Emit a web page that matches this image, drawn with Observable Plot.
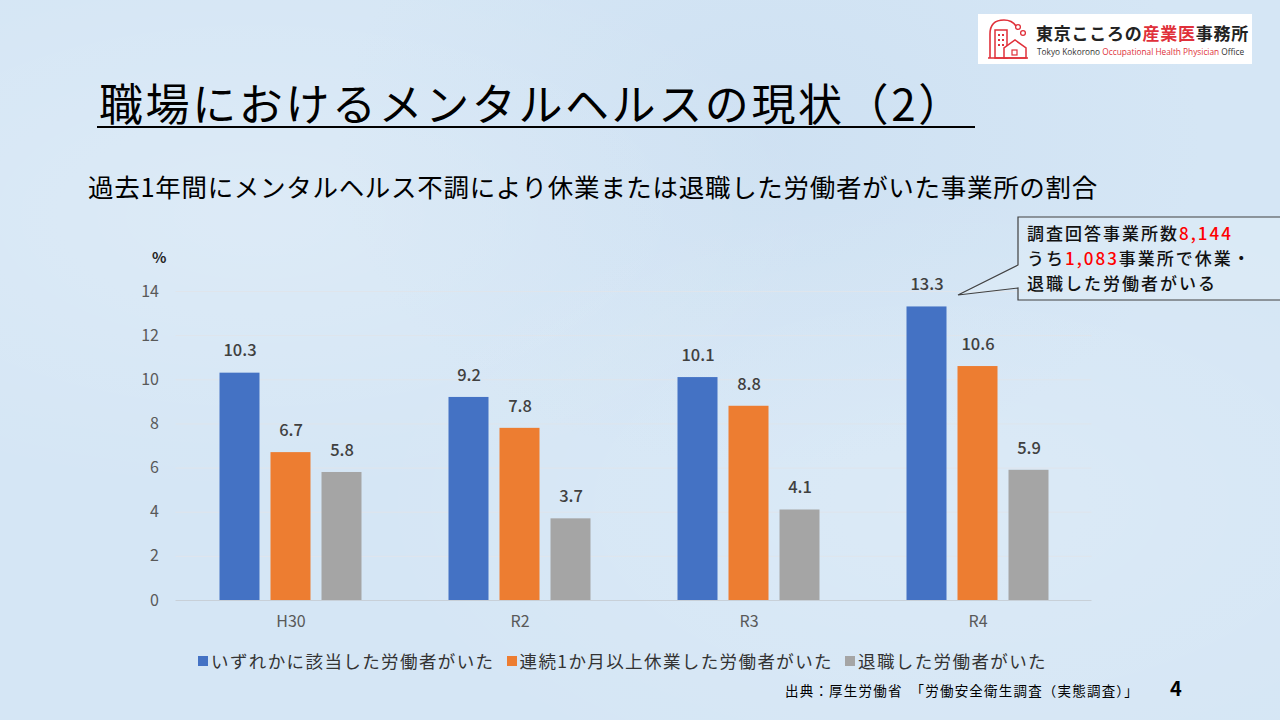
<!DOCTYPE html>
<html>
<head>
<meta charset="utf-8">
<script src="https://cdn.jsdelivr.net/npm/d3@7"></script>
<script src="https://cdn.jsdelivr.net/npm/@observablehq/plot@0.6"></script>
<style>
  html, body { margin: 0; padding: 0; }
  body {
    width: 1280px; height: 720px; position: relative; overflow: hidden;
    background: #d5e6f5;
    background-image:
      radial-gradient(ellipse at 20% 30%, rgba(255,255,255,0.18), rgba(255,255,255,0) 40%),
      radial-gradient(ellipse at 75% 70%, rgba(255,255,255,0.15), rgba(255,255,255,0) 45%),
      radial-gradient(ellipse at 60% 20%, rgba(180,205,232,0.2), rgba(180,205,232,0) 40%);
    font-family: "Noto Sans CJK JP", "Noto Sans", sans-serif;
    color: #000;
  }
  .abs { position: absolute; white-space: nowrap; }
  #title { left: 99px; top: 74px; font-size: 44px; line-height: 56px; letter-spacing: 2.6px; }
  #underline { left: 97px; top: 126px; width: 878px; height: 2px; background: #000; }
  #subtitle { left: 88px; top: 169px; font-size: 25.5px; line-height: 34px; letter-spacing: 0.7px; }
  #pct { left: 152px; top: 246px; font-size: 15px; font-weight: bold; color: #262626; }
  #chart { left: 0; top: 240px; }
  #legend { left: 198px; top: 648px; font-size: 17.5px; line-height: 26px; color: #333; display: flex; align-items: center; letter-spacing: 1.4px; }
  #legend .item { display: flex; align-items: center; margin-right: 12px; }
  #legend .sw { width: 10px; height: 10px; margin-right: 3px; }
  #source { left: 785px; top: 680px; font-size: 13.5px; line-height: 20px; color: #000; letter-spacing: 1.2px; }
  #page { left: 1170px; top: 674px; font-size: 20px; font-weight: bold; line-height: 28px; }
  .cl { left: 1027px; font-size: 17px; line-height: 25px; height: 25px; font-weight: 500; color: #111; letter-spacing: 2px; }
  .cl .red { color: #ff0000; }
  #logo { left: 978px; top: 14px; width: 274px; height: 50px; background: #fff; }
  #logo .jp { position: absolute; left: 58px; top: 7px; font-size: 17px; font-weight: bold; letter-spacing: 0.75px; line-height: 24px; color: #222; }
  #logo .en { position: absolute; left: 59px; top: 33px; font-size: 8.3px; line-height: 10px; color: #333; font-family: "Open Sans", sans-serif; }
  .r { color: #e0303a; }
</style>
</head>
<body>
<script>
// ---- data ----
const groups = ["H30", "R2", "R3", "R4"];
const seriesNames = ["いずれかに該当した労働者がいた", "連続1か月以上休業した労働者がいた", "退職した労働者がいた"];
const anyValues = [10.3, 9.2, 10.1, 13.3];
const leaveValues = [6.7, 7.8, 8.8, 10.6];
const quitValues = [5.8, 3.7, 4.1, 5.9];
const seriesColors = ["#4472c4", "#ed7d31", "#a5a5a5"];
const yTicks = [0, 2, 4, 6, 8, 10, 12, 14];
const titleText = "職場におけるメンタルヘルスの現状（2）";
const subtitleText = "過去1年間にメンタルヘルス不調により休業または退職した労働者がいた事業所の割合";
const sourceText = "出典：厚生労働省　「労働安全衛生調査（実態調査）」";
const pageNumber = "4";
const calloutTotal = "8,144";
const calloutCount = "1,083";

const seriesValues = [anyValues, leaveValues, quitValues];
const rows = [];
seriesNames.forEach((s, si) => groups.forEach((g, gi) => rows.push({group: g, series: s, si, value: seriesValues[si][gi]})));

function add(html) { document.body.insertAdjacentHTML("beforeend", html); }

add(`<div id="logo" class="abs">
  <svg width="56" height="50" viewBox="0 0 56 50" style="position:absolute;left:0;top:0">
    <path d="M12 44 V20 Q12 6 26 6 Q34 6 38 12" fill="none" stroke="#e0303a" stroke-width="1.6"/>
    <circle cx="40" cy="13" r="2.4" fill="none" stroke="#e0303a" stroke-width="1.3"/>
    <circle cx="45" cy="19" r="2.4" fill="none" stroke="#e0303a" stroke-width="1.3"/>
    <rect x="17" y="16" width="12" height="28" fill="none" stroke="#e0303a" stroke-width="1.5"/>
    <g fill="#e0303a"><rect x="20" y="20" width="2" height="2"/><rect x="24" y="20" width="2" height="2"/><rect x="20" y="25" width="2" height="2"/><rect x="24" y="25" width="2" height="2"/><rect x="20" y="30" width="2" height="2"/><rect x="24" y="30" width="2" height="2"/></g>
    <path d="M26 44 V34 L37 26 L48 34 V44 Z" fill="#fff" stroke="#e0303a" stroke-width="1.5"/>
    <rect x="34" y="36" width="5" height="5" fill="none" stroke="#e0303a" stroke-width="1.2"/>
    <path d="M10 44 H50" stroke="#e0303a" stroke-width="1.5"/>
  </svg>
  <div class="jp">東京こころの<span class="r">産業医</span>事務所</div>
  <div class="en">Tokyo Kokorono <span class="r">Occupational Health Physician</span> Office</div>
</div>`);
add(`<div id="title" class="abs">${titleText}</div><div id="underline" class="abs"></div>`);
add(`<div id="subtitle" class="abs">${subtitleText}</div>`);
add(`<div id="pct" class="abs">%</div>`);

// ---- chart ----
const step = 229, barW = 40, gap = 51;
const marks = [
  Plot.ruleY(yTicks.filter(d => d > 0), {stroke: "#dfe5ec", strokeWidth: 1}),
  Plot.ruleY([0], {stroke: "#c8d0d8", strokeWidth: 1})
];
seriesNames.forEach((s, si) => {
  const data = rows.filter(r => r.si === si);
  const dx = (si - 1) * gap;
  marks.push(Plot.barY(data, {x: "group", y: "value", fill: "series", dx, insetLeft: (step - barW) / 2, insetRight: (step - barW) / 2}));
  marks.push(Plot.text(data, {x: "group", y: "value", text: d => d.value.toFixed(1), dx, dy: -22, fill: "#404040", fontSize: 16.5, fontWeight: 500}));
});
const chart = Plot.plot({
  width: 1280, height: 400,
  marginLeft: 175.5, marginRight: 188.5, marginTop: 51, marginBottom: 40,
  style: {background: "transparent", fontFamily: "'Noto Sans CJK JP', sans-serif", fontSize: "16px", color: "#595959"},
  x: {domain: groups, padding: 0, tickSize: 0, tickPadding: 15, label: null},
  y: {domain: [0, 14], ticks: yTicks, tickSize: 0, tickPadding: 17, label: null},
  color: {domain: seriesNames, range: seriesColors},
  marks
});
chart.id = "chart";
chart.classList.add("abs");
chart.style.position = "absolute";
document.body.appendChild(chart);

// legend
add(`<div id="legend" class="abs">${seriesNames.map((s, i) => `<div class="item"><div class="sw" style="background:${seriesColors[i]}"></div>${s}</div>`).join("")}</div>`);
add(`<div id="source" class="abs">${sourceText}</div>`);
add(`<div id="page" class="abs">${pageNumber}</div>`);

// callout
add(`<svg class="abs" style="left:0;top:0" width="1280" height="720"><path d="M1282 217 H1018 V265 L958 295 L1018 288 V300 H1282" fill="rgba(230,240,250,0.35)" stroke="#404040" stroke-width="1.2"/></svg>`);
add(`<div class="abs cl" style="top:220px">調査回答事業所数<span class="red">${calloutTotal}</span></div>`);
add(`<div class="abs cl" style="top:245px">うち<span class="red">${calloutCount}</span>事業所で休業・</div>`);
add(`<div class="abs cl" style="top:270px">退職した労働者がいる</div>`);
</script>
</body>
</html>
